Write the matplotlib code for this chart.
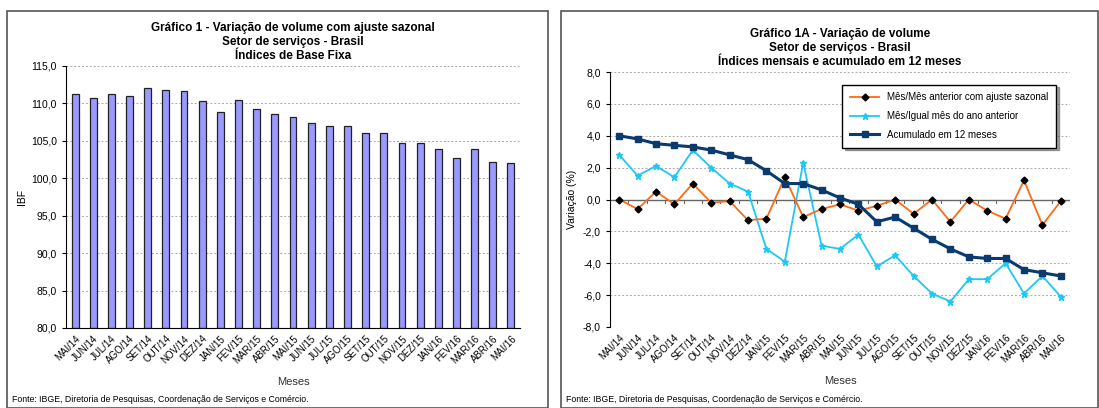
import numpy as np
import matplotlib
matplotlib.use("Agg")
import matplotlib.pyplot as plt
from matplotlib.patches import Rectangle

plt.rcParams['font.family'] = ['Liberation Sans', 'DejaVu Sans']

meses = ['MAI/14', 'JUN/14', 'JUL/14', 'AGO/14', 'SET/14', 'OUT/14', 'NOV/14', 'DEZ/14',
         'JAN/15', 'FEV/15', 'MAR/15', 'ABR/15', 'MAI/15', 'JUN/15', 'JUL/15', 'AGO/15',
         'SET/15', 'OUT/15', 'NOV/15', 'DEZ/15', 'JAN/16', 'FEV/16', 'MAR/16', 'ABR/16', 'MAI/16']

ibf = [111.3, 110.7, 111.25, 111.0, 112.05, 111.8, 111.7, 110.3, 108.9, 110.45, 109.25, 108.6,
       108.2, 107.4, 107.05, 107.05, 106.05, 106.05, 104.65, 104.65, 103.9, 102.7, 103.9, 102.2, 102.1]

mes_mes = [0.0, -0.6, 0.5, -0.3, 1.0, -0.2, -0.1, -1.3, -1.2, 1.4, -1.1, -0.6, -0.3, -0.7,
           -0.4, 0.0, -0.9, 0.0, -1.4, 0.0, -0.7, -1.2, 1.2, -1.6, -0.1]
mes_igual = [2.8, 1.5, 2.1, 1.4, 3.1, 2.0, 1.0, 0.5, -3.1, -3.9, 2.3, -2.9, -3.1, -2.2,
             -4.2, -3.5, -4.8, -5.9, -6.4, -5.0, -5.0, -4.0, -5.9, -4.8, -6.1]
acumulado = [4.0, 3.8, 3.5, 3.4, 3.3, 3.1, 2.8, 2.5, 1.8, 1.0, 1.0, 0.6, 0.1, -0.3,
             -1.4, -1.1, -1.8, -2.5, -3.1, -3.6, -3.7, -3.7, -4.4, -4.6, -4.8]

W, H = 1099, 408
fig = plt.figure(figsize=(W / 100, H / 100), dpi=100)

def box(x0, y0, x1, y1):
    return [x0 / W, 1 - y1 / H, (x1 - x0) / W, (y1 - y0) / H]

# panel frames
for x0, x1 in [(7, 548), (561, 1098)]:
    fig.patches.append(Rectangle((x0 / W, 0), (x1 - x0) / W, 1 - 11 / H, transform=fig.transFigure,
                                 fill=False, edgecolor='#555555', linewidth=1.2))

x = np.arange(len(meses))
fonte = 'Fonte: IBGE, Diretoria de Pesquisas, Coordenação de Serviços e Comércio.'

# Gráfico 1
ax1 = fig.add_axes(box(66, 66, 520, 328))
ax1.bar(x, [v - 80 for v in ibf], bottom=80, width=0.38, color='#9999FF', edgecolor='#222222', linewidth=0.9)
ax1.set_xlim(-0.5, len(meses) - 0.5)
ax1.set_ylim(80, 115)
ax1.set_yticks(np.arange(80, 116, 5))
ax1.set_yticklabels([f'{v:.1f}'.replace('.', ',') for v in np.arange(80, 116, 5)], fontsize=7.5)
ax1.set_xticks(x)
ax1.set_xticklabels(meses, rotation=45, ha='right', rotation_mode='anchor', fontsize=7)
ax1.tick_params(axis='x', length=0, pad=4)
ax1.tick_params(axis='y', length=3)
ax1.grid(axis='y', linestyle=(0, (2, 2)), color='#aaaaaa', linewidth=0.7)
ax1.set_axisbelow(True)
for s in ['top', 'right']:
    ax1.spines[s].set_visible(False)
ax1.set_ylabel('IBF', fontsize=7.5, labelpad=3)
ax1.set_xlabel('Meses', fontsize=8, labelpad=8, color='#333333')
ax1.set_title('Gráfico 1 - Variação de volume com ajuste sazonal\nSetor de serviços - Brasil\nÍndices de Base Fixa',
              fontsize=8.5, fontweight='bold', pad=5, linespacing=1.25)
fig.text(12 / W, 1 - 404 / H, fonte, fontsize=6.3, va='bottom')

# Gráfico 1A
ax2 = fig.add_axes(box(610, 72, 1070, 327))
ax2.plot(x, mes_mes, color='#FF6A13', linewidth=1.3, marker='D', markersize=3.5,
         markerfacecolor='black', markeredgecolor='black', label='Mês/Mês anterior com ajuste sazonal', zorder=4)
ax2.plot(x, mes_igual, color='#1EC8F5', linewidth=1.3, marker='*', markersize=5,
         markerfacecolor='#1EC8F5', markeredgecolor='#1EC8F5', label='Mês/Igual mês do ano anterior', zorder=3)
ax2.plot(x, acumulado, color='#0B3A6E', linewidth=2.2, marker='s', markersize=4,
         markerfacecolor='#0B3A6E', markeredgecolor='#0B3A6E', label='Acumulado em 12 meses', zorder=5)
ax2.set_xlim(-0.5, len(meses) - 0.5)
ax2.set_ylim(-8, 8)
ax2.set_yticks(np.arange(-8, 9, 2))
ax2.set_yticklabels([f'{v:.1f}'.replace('.', ',') for v in np.arange(-8, 9, 2)], fontsize=7.5)
ax2.grid(axis='y', linestyle=(0, (2, 2)), color='#aaaaaa', linewidth=0.7)
ax2.set_axisbelow(True)
for s in ['top', 'right', 'bottom']:
    ax2.spines[s].set_visible(False)
ax2.axhline(0, color='#666666', linewidth=1.0, zorder=2)
for b in np.arange(0.5, len(meses) - 0.5, 1):
    ax2.plot([b, b], [0, -0.2], color='#666666', linewidth=0.8, zorder=2)
ax2.set_xticks(x)
ax2.set_xticklabels(meses, rotation=45, ha='right', rotation_mode='anchor', fontsize=7)
ax2.tick_params(axis='x', length=0, pad=4)
ax2.tick_params(axis='y', length=3)
ax2.set_ylabel('Variação (%)', fontsize=7.5, labelpad=4)
ax2.set_xlabel('Meses', fontsize=8, labelpad=8, color='#333333')
ax2.set_title('Gráfico 1A - Variação de volume\nSetor de serviços - Brasil\nÍndices mensais e acumulado em 12 meses',
              fontsize=8.5, fontweight='bold', pad=5, linespacing=1.25)
leg = ax2.legend(loc='upper right', bbox_to_anchor=(0.98, 0.97), fontsize=7, frameon=True, fancybox=False,
                 shadow=True, edgecolor='black', handlelength=3, labelspacing=0.9, borderpad=0.8)
leg.get_frame().set_linewidth(1.0)
fig.text(566 / W, 1 - 404 / H, fonte, fontsize=6.3, va='bottom')

fig.savefig('out.png', dpi=100)
